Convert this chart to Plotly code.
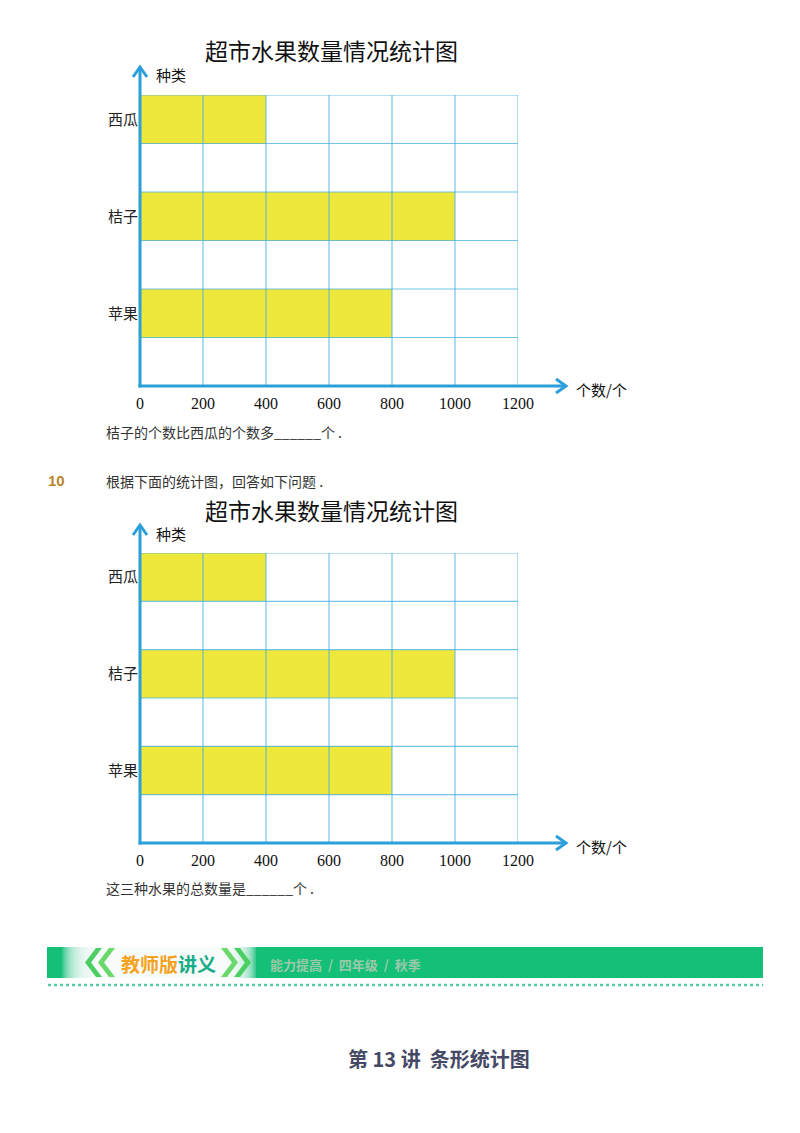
import plotly.graph_objects as go

# ---------------- data ----------------
fruits = ["西瓜", "桔子", "苹果"]
counts = [400, 1000, 800]
fruit_slots = [5.5, 3.5, 1.5]          # row positions of the bars (6 grid rows)
x_ticks = [0, 200, 400, 600, 800, 1000, 1200]
x_tick_labels = ["0", "200", "400", "600", "800", "1000", "1200"]
row_lines = [1, 2, 3, 4, 5, 6]
chart_title = "超市水果数量情况统计图"
y_name = "种类"
x_name = "个数/个"
question_1 = "桔子的个数比西瓜的个数多______个 ."
question_no = "10"
question_2_intro = "根据下面的统计图，回答如下问题 ."
question_2 = "这三种水果的总数量是______个 ."
banner_main = ["教师版", "讲义"]
banner_sub = "能力提高  /  四年级  /  秋季"
lesson_title = "第 13 讲  条形统计图"

W, H = 800, 1133
def X(p): return p / W
def Y(p): return 1 - p / H

CJK = "Noto Sans CJK SC"
SERIF = "Liberation Serif"
AXIS_BLUE = "#2b9fd9"
GRID_BLUE = "rgba(70,175,225,0.75)"
BAR_YELLOW = "#ede83b"

fig = go.Figure()
shapes = []
annotations = []
layout_axes = {}

charts = [
    dict(top=95, bottom=386, title_y=50, q_y=432),
    dict(top=553, bottom=843, title_y=510, q_y=888),
]

for i, c in enumerate(charts):
    ax = "" if i == 0 else "2"
    xa, ya = "x" + ax, "y" + ax
    fig.add_trace(go.Bar(
        x=counts, y=fruit_slots, orientation="h", width=1,
        marker=dict(color=BAR_YELLOW, line=dict(width=0)),
        xaxis=xa, yaxis=ya, showlegend=False, hoverinfo="skip",
    ))
    layout_axes["xaxis" + ax] = dict(
        domain=[X(140), X(518)], range=[0, 1200], anchor=ya, automargin=False,
        tickvals=x_ticks, ticktext=x_tick_labels, ticks="",
        showgrid=False, zeroline=False, showline=False,
        tickfont=dict(family=SERIF, size=16, color="#111"),
        ticklabelstandoff=6, fixedrange=True,
    )
    layout_axes["yaxis" + ax] = dict(
        domain=[Y(c["bottom"]), Y(c["top"])], range=[0, 6], anchor=xa, automargin=False,
        tickvals=fruit_slots, ticktext=fruits, ticks="",
        showgrid=False, zeroline=False, showline=False,
        tickfont=dict(family=CJK, size=15, color="#222"),
        ticklabelstandoff=1, fixedrange=True,
    )
    # grid lines drawn above the bars
    for v in x_ticks[1:]:
        shapes.append(dict(type="line", xref=xa, yref=ya, x0=v, x1=v, y0=0, y1=6,
                           line=dict(color=GRID_BLUE, width=1.2), layer="above"))
    for r in row_lines:
        shapes.append(dict(type="line", xref=xa, yref=ya, x0=0, x1=1200, y0=r, y1=r,
                           line=dict(color=GRID_BLUE, width=1.2), layer="above"))
    # axis arrows
    b, t = c["bottom"], c["top"]
    shapes.append(dict(type="line", xref="paper", yref="paper",
                       x0=X(140), x1=X(140), y0=Y(b + 1.5), y1=Y(t - 28),
                       line=dict(color=AXIS_BLUE, width=3), layer="above"))
    shapes.append(dict(type="line", xref="paper", yref="paper",
                       x0=X(138.5), x1=X(565), y0=Y(b), y1=Y(b),
                       line=dict(color=AXIS_BLUE, width=3), layer="above"))
    shapes.append(dict(type="path", xref="paper", yref="paper",
                       path=f"M {X(133)} {Y(t-18)} L {X(140)} {Y(t-28)} L {X(147)} {Y(t-18)}",
                       line=dict(color=AXIS_BLUE, width=3), layer="above"))
    shapes.append(dict(type="path", xref="paper", yref="paper",
                       path=f"M {X(556)} {Y(b-7)} L {X(566)} {Y(b)} L {X(556)} {Y(b+7)}",
                       line=dict(color=AXIS_BLUE, width=3), layer="above"))
    # texts
    annotations.append(dict(text=chart_title, x=X(331), y=Y(c["title_y"]), xref="paper", yref="paper",
                            showarrow=False, xanchor="center", yanchor="middle",
                            font=dict(family=CJK, size=23, color="#111")))
    annotations.append(dict(text=y_name, x=X(154), y=Y(t - 20), xref="paper", yref="paper",
                            showarrow=False, xanchor="left", yanchor="middle",
                            font=dict(family=CJK, size=15, color="#111")))
    annotations.append(dict(text=x_name, x=X(574), y=Y(b + 3), xref="paper", yref="paper",
                            showarrow=False, xanchor="left", yanchor="middle",
                            font=dict(family=CJK, size=15, color="#111")))

annotations.append(dict(text=question_1, x=X(104), y=Y(432), xref="paper", yref="paper",
                        showarrow=False, xanchor="left", yanchor="middle",
                        font=dict(family=CJK, size=14, color="#333")))
annotations.append(dict(text=f"<b>{question_no}</b>", x=X(46), y=Y(481), xref="paper", yref="paper",
                        showarrow=False, xanchor="left", yanchor="middle",
                        font=dict(family="Liberation Sans", size=15, color="#b8862b")))
annotations.append(dict(text=question_2_intro, x=X(104), y=Y(481), xref="paper", yref="paper",
                        showarrow=False, xanchor="left", yanchor="middle",
                        font=dict(family=CJK, size=14, color="#333")))
annotations.append(dict(text=question_2, x=X(104), y=Y(888), xref="paper", yref="paper",
                        showarrow=False, xanchor="left", yanchor="middle",
                        font=dict(family=CJK, size=14, color="#333")))

# ---------------- banner ----------------
GREEN = "#14bf78"
shapes.append(dict(type="rect", xref="paper", yref="paper", x0=X(47), x1=X(763), y0=Y(978), y1=Y(947),
                   fillcolor=GREEN, line=dict(width=0), layer="below"))
# soft white fade in the left part (many thin layers -> smooth gradient)
n_steps = 16
for k in range(n_steps):
    f = (k + 1) / n_steps
    x0 = 60 + 35 * f
    x1 = 258 - 30 * f
    shapes.append(dict(type="rect", xref="paper", yref="paper", x0=X(x0), x1=X(x1), y0=Y(978), y1=Y(947),
                       fillcolor="white", opacity=0.2, line=dict(width=0), layer="below"))
# chevrons
for tip, col in [(85, "#4ccf62"), (98, "#6ad86a")]:
    shapes.append(dict(type="path", xref="paper", yref="paper",
                       path=(f"M {X(tip+11)} {Y(948)} L {X(tip)} {Y(962.5)} L {X(tip+11)} {Y(977)} "
                             f"L {X(tip+17)} {Y(977)} L {X(tip+6)} {Y(962.5)} L {X(tip+17)} {Y(948)} Z"),
                       fillcolor=col, line=dict(width=0), layer="above"))
for tip, col in [(238, "#6ad86a"), (251, "#4ccf62")]:
    shapes.append(dict(type="path", xref="paper", yref="paper",
                       path=(f"M {X(tip-11)} {Y(948)} L {X(tip)} {Y(962.5)} L {X(tip-11)} {Y(977)} "
                             f"L {X(tip-17)} {Y(977)} L {X(tip-6)} {Y(962.5)} L {X(tip-17)} {Y(948)} Z"),
                       fillcolor=col, line=dict(width=0), layer="above"))
annotations.append(dict(
    text=f"<b><span style='color:#f5a21e'>{banner_main[0]}</span><span style='color:#17ad86'>{banner_main[1]}</span></b>",
    x=X(119), y=Y(963), xref="paper", yref="paper", showarrow=False, xanchor="left", yanchor="middle",
    font=dict(family=CJK, size=19)))
annotations.append(dict(text=f"<b>{banner_sub}</b>", x=X(268), y=Y(964), xref="paper", yref="paper",
                        showarrow=False, xanchor="left", yanchor="middle",
                        font=dict(family=CJK, size=13, color="#9cc9aa")))
shapes.append(dict(type="line", xref="paper", yref="paper", x0=X(48), x1=X(763), y0=Y(985), y1=Y(985),
                   line=dict(color="#5ac9a6", width=2.5, dash="dot")))

annotations.append(dict(text=f"<b>{lesson_title}</b>", x=X(346), y=Y(1058), xref="paper", yref="paper",
                        showarrow=False, xanchor="left", yanchor="middle",
                        font=dict(family=CJK, size=20, color="#454a66")))

fig.update_layout(
    width=W, height=H, margin=dict(l=0, r=0, t=0, b=0, autoexpand=False),
    paper_bgcolor="white", plot_bgcolor="rgba(0,0,0,0)",
    shapes=shapes, annotations=annotations, bargap=0, showlegend=False,
    **layout_axes,
)
fig.write_html(
    "out.html",
    config={"responsive": False, "displayModeBar": False},
    post_script="document.body.style.margin='0';document.body.style.overflow='hidden';",
)
